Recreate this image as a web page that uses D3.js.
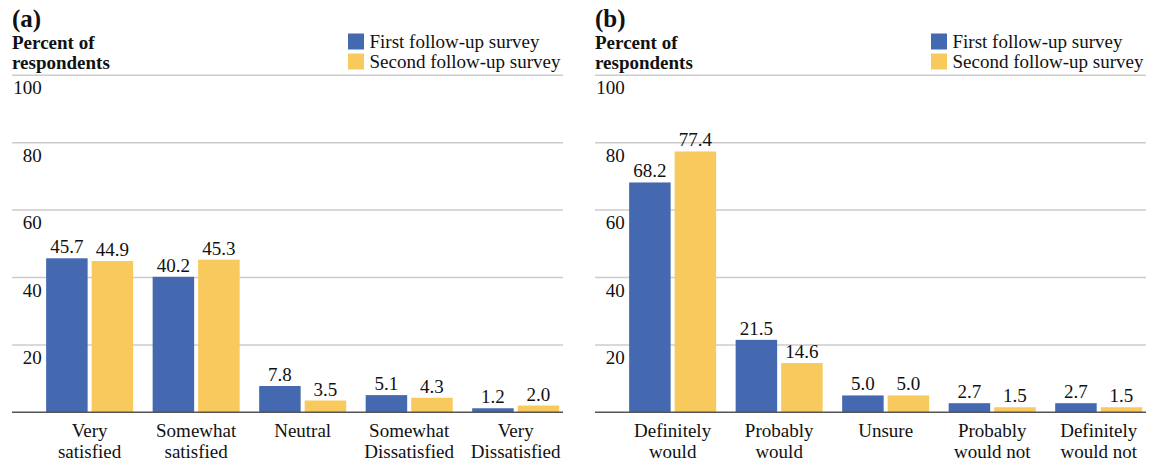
<!DOCTYPE html>
<html>
<head>
<meta charset="utf-8">
<script src="https://cdn.jsdelivr.net/npm/d3@7"></script>
<style>
  html, body { margin: 0; padding: 0; background: #ffffff; }
  svg text { font-family: "Liberation Serif", "Times New Roman", Times, serif; }
</style>
</head>
<body>
<svg id="chart" width="1159" height="466" font-family="Liberation Serif, Times New Roman, serif"></svg>
<script>
// Series and categories for the two panels
const seriesNames = ["First follow-up survey", "Second follow-up survey"];
const seriesColors = ["#4569b0", "#f8c95c"];
const yTicks = [20, 40, 60, 80, 100];

const satisfactionCategories = [["Very", "satisfied"], ["Somewhat", "satisfied"], ["Neutral"], ["Somewhat", "Dissatisfied"], ["Very", "Dissatisfied"]];
const satisfactionFirst = [45.7, 40.2, 7.8, 5.1, 1.2];
const satisfactionSecond = [44.9, 45.3, 3.5, 4.3, 2.0];

const recommendCategories = [["Definitely", "would"], ["Probably", "would"], ["Unsure"], ["Probably", "would not"], ["Definitely", "would not"]];
const recommendFirst = [68.2, 21.5, 5.0, 2.7, 2.7];
const recommendSecond = [77.4, 14.6, 5.0, 1.5, 1.5];

const svg = d3.select("#chart");
const FONT = "'Liberation Serif', 'Times New Roman', serif";

function drawPanel(left, tag, categories, first, second) {
  const g = svg.append("g").attr("transform", `translate(${left},0)`)
    .style("font-family", FONT);
  const width = 551;
  const y = d3.scaleLinear().domain([0, 100]).range([412.3, 75.3]);

  const x0 = d3.scaleBand()
    .domain(d3.range(categories.length))
    .range([0, width])
    .paddingInner(0.183)
    .paddingOuter(0.178)
    .align(0.9);
  const x1 = d3.scaleBand()
    .domain([0, 1])
    .range([0, x0.bandwidth()])
    .paddingInner(0.088);

  // Panel tag and axis title
  g.append("text").attr("x", 0).attr("y", 27)
    .attr("font-size", 25).attr("font-weight", "bold").attr("fill", "#111")
    .text(`(${tag})`);
  const title = g.append("text").attr("x", 0).attr("y", 49)
    .attr("font-size", 19).attr("font-weight", "bold").attr("fill", "#111");
  title.append("tspan").attr("x", 0).text("Percent of");
  title.append("tspan").attr("x", 0).attr("dy", 19.5).text("respondents");

  // Legend
  const legend = g.append("g").attr("transform", "translate(336,0)");
  seriesNames.forEach((name, i) => {
    legend.append("rect").attr("x", 0).attr("y", 33.5 + i * 20)
      .attr("width", 16).attr("height", 16).attr("fill", seriesColors[i]);
    legend.append("text").attr("x", 21.5).attr("y", 48 + i * 20)
      .attr("font-size", 19).attr("fill", "#111").text(name);
  });

  // Gridlines with tick labels below each line
  const grid = g.append("g");
  yTicks.forEach(t => {
    grid.append("line").attr("x1", 0).attr("x2", width)
      .attr("y1", y(t)).attr("y2", y(t))
      .attr("stroke", "#cccccc").attr("stroke-width", 1.5);
    grid.append("text").attr("x", 29.7).attr("y", y(t) + 19)
      .attr("text-anchor", "end").attr("font-size", 19).attr("fill", "#111")
      .text(t);
  });

  // Bars
  const rows = categories.map((c, i) => ({ i, values: [first[i], second[i]] }));
  const groups = g.selectAll("g.grp").data(rows).join("g")
    .attr("class", "grp")
    .attr("transform", d => `translate(${x0(d.i)},0)`);
  groups.selectAll("rect").data(d => d.values.map((v, k) => ({ v, k })))
    .join("rect")
    .attr("x", d => x1(d.k))
    .attr("width", x1.bandwidth())
    .attr("y", d => y(d.v))
    .attr("height", d => y(0) - y(d.v))
    .attr("fill", d => seriesColors[d.k]);
  groups.selectAll("text.val").data(d => d.values.map((v, k) => ({ v, k })))
    .join("text")
    .attr("class", "val")
    .attr("x", d => x1(d.k) + x1.bandwidth() / 2)
    .attr("y", d => y(d.v) - 5)
    .attr("text-anchor", "middle").attr("font-size", 19).attr("fill", "#111")
    .text(d => d.v.toFixed(1));

  // Baseline
  g.append("line").attr("x1", 0).attr("x2", width)
    .attr("y1", y(0)).attr("y2", y(0))
    .attr("stroke", "#555555").attr("stroke-width", 1.6);

  // Category labels
  categories.forEach((lines, i) => {
    const t = g.append("text")
      .attr("x", x0(i) + x0.bandwidth() / 2).attr("y", 437)
      .attr("text-anchor", "middle").attr("font-size", 19).attr("fill", "#111");
    lines.forEach((ln, j) => {
      t.append("tspan").attr("x", x0(i) + x0.bandwidth() / 2)
        .attr("dy", j === 0 ? 0 : 20.5).text(ln);
    });
  });
}

drawPanel(12, "a", satisfactionCategories, satisfactionFirst, satisfactionSecond);
drawPanel(595, "b", recommendCategories, recommendFirst, recommendSecond);
</script>
</body>
</html>
